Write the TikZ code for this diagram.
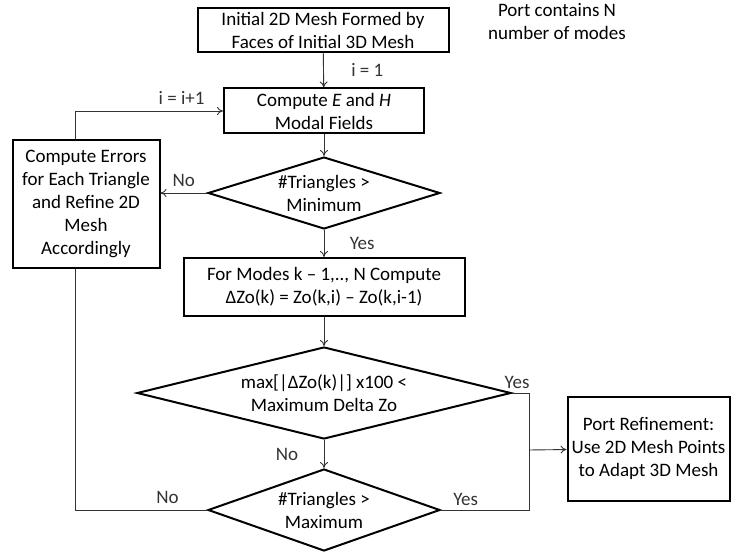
\documentclass[tikz,border=0pt]{standalone}
\usepackage{fontspec}
\setmainfont{Carlito}
\usetikzlibrary{positioning,arrows.meta,shapes.geometric,calc}

\begin{document}
\begin{tikzpicture}[
  x=1pt, y=-1pt,
  font=\fontsize{19}{23}\selectfont,
  box/.style={draw, line width=2pt, align=center, inner sep=2pt},
  test/.style={draw, diamond, line width=2pt, align=center, inner sep=0pt},
  line/.style={-{To[length=6pt,width=8pt]}, line width=0.9pt, black!80},
  plain/.style={line width=0.9pt, black!80}]
\useasboundingbox (0,0) rectangle (736,553);
\node[box, minimum width=251pt, minimum height=44pt] (init) at (323,30) {Initial 2D Mesh Formed by\\Faces of Initial 3D Mesh};
\node[box, minimum width=200pt, minimum height=45pt] (fields) at (324,111) {Compute \textit{E} and \textit{H}\\Modal Fields};
\node[test, minimum width=232pt, minimum height=72pt, aspect=3.2] (tmin) at (324,193) {\#Triangles >\\Minimum};
\node[box, minimum width=281pt, minimum height=58pt] (dzo) at (324,287) {For Modes k – 1,.., N Compute\\ΔZo(k) = Zo(k,i) – Zo(k,i-1)};
\node[test, minimum width=374pt, minimum height=92pt, aspect=4] (tdel) at (324,393) {max[|ΔZo(k)|] x100 <\\Maximum Delta Zo};
\node[test, minimum width=232pt, minimum height=82pt, aspect=2.8] (tmax) at (324,510) {\#Triangles >\\Maximum};
\node[box, minimum width=147pt, minimum height=128pt] (errs) at (86,204) {Compute Errors\\for Each Triangle\\and Refine 2D\\Mesh\\Accordingly};
\node[box, minimum width=162pt, minimum height=104pt] (port) at (648.5,448.5) {Port Refinement:\\Use 2D Mesh Points\\to Adapt 3D Mesh};
\node[align=center] (note) at (557,22) {Port contains N\\number of modes};
\coordinate (jn) at (529,450);
% main column
\draw[line] (init) -- node[right=24pt]{i = 1} (fields);
\draw[line] (fields) -- (tmin);
\draw[line] (tmin) -- node[right=22pt]{Yes} (dzo);
\draw[line] (dzo) -- (tdel);
\draw[line] (tdel) -- node[left=22pt]{No} (tmax);
% refinement loop
\draw[line] (tmin.west) -- node[above=3pt]{No} (tmin.west -| errs.east);
\draw[line] ([xshift=-11pt]errs.north) |- node[pos=0.86, above=3pt]{i = i+1} (fields.west);
\draw[plain] (tmax.west) -| node[pos=0.15, above=3pt]{No} ([xshift=-11pt]errs.south);
% exits
\draw[plain] (tdel.east) -| node[pos=0.15, above=1pt]{Yes} (jn);
\draw[plain] (tmax.east) -| node[pos=0.14, above=1pt]{Yes} (jn);
\draw[line] (jn) -- (port);
\end{tikzpicture}
\end{document}
